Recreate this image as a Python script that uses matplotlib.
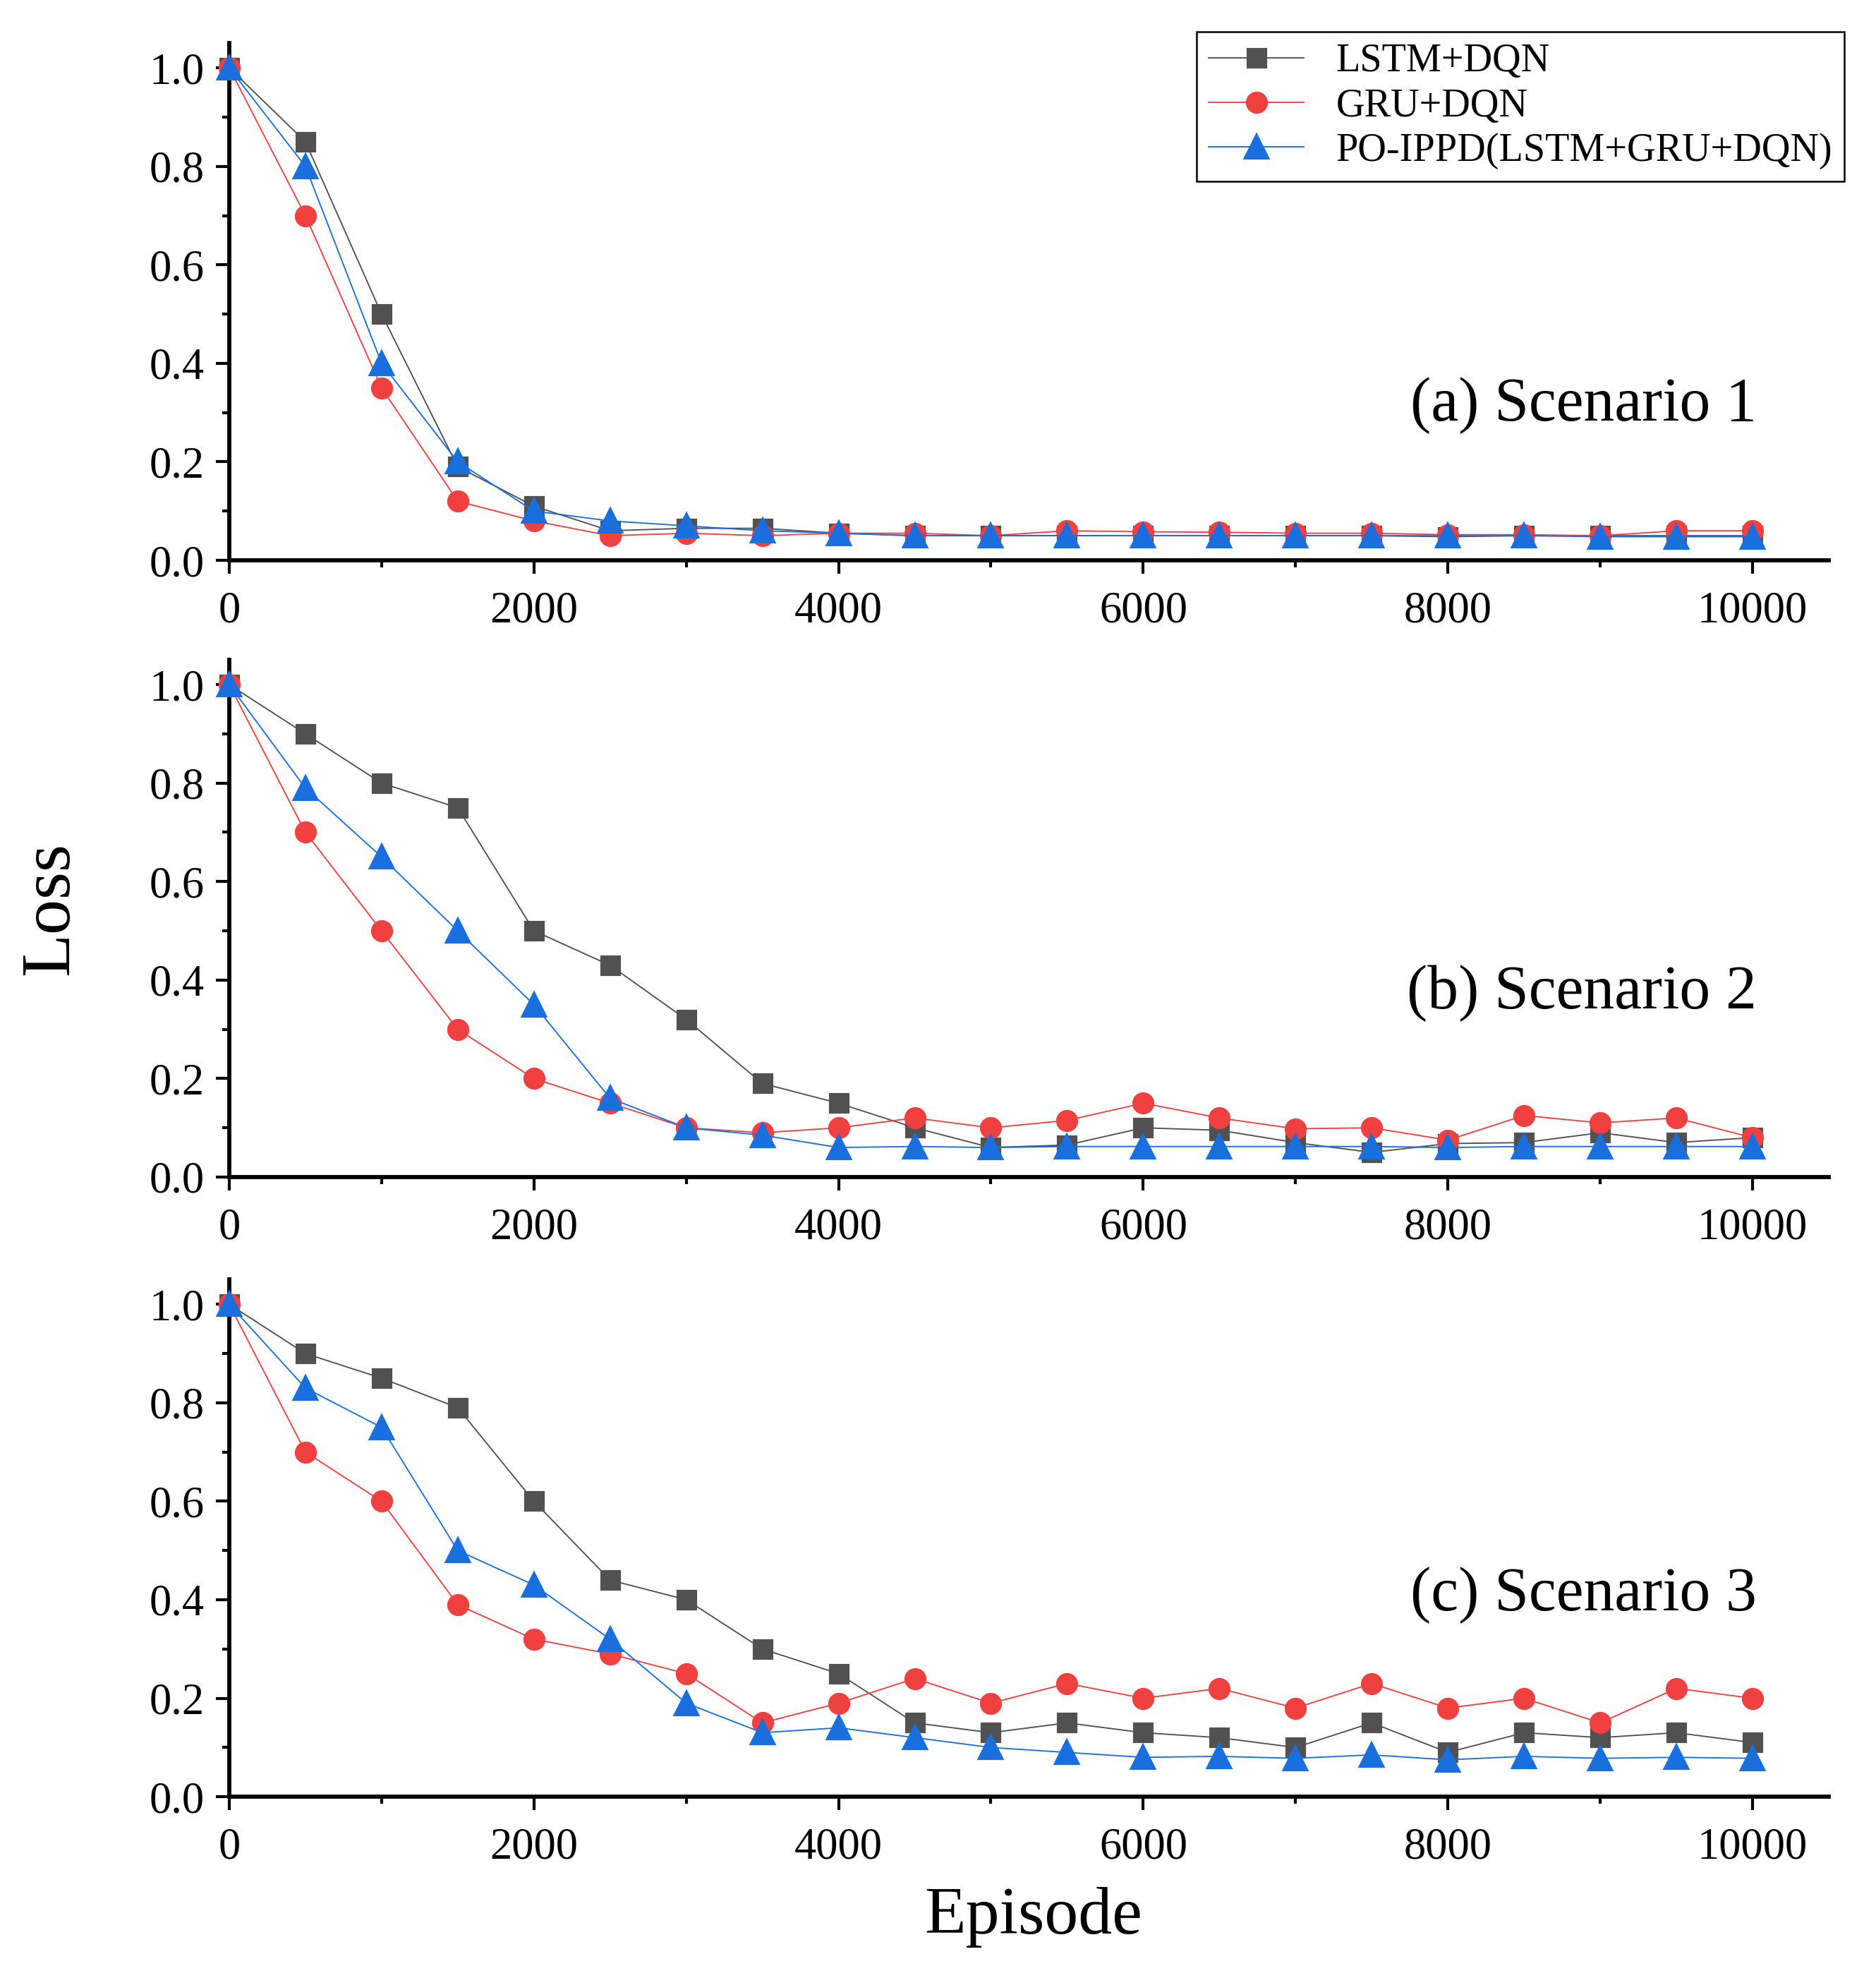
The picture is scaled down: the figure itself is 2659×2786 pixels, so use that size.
import matplotlib
matplotlib.use("Agg")
import matplotlib.pyplot as plt
from matplotlib.ticker import MultipleLocator
import numpy as np

plt.rcParams['font.family'] = ['Liberation Serif', 'DejaVu Serif']

episodes = np.arange(0, 10001, 500)
series_names = ['LSTM+DQN', 'GRU+DQN', 'PO-IPPD(LSTM+GRU+DQN)']
panel_titles = ['(a) Scenario 1', '(b) Scenario 2', '(c) Scenario 3']

# scenario 1
lstm_1 = [1.0, 0.85, 0.5, 0.19, 0.11, 0.06, 0.065, 0.065, 0.055, 0.05, 0.05,
          0.05, 0.05, 0.05, 0.05, 0.05, 0.048, 0.05, 0.05, 0.05, 0.05]
gru_1 = [1.0, 0.7, 0.35, 0.12, 0.08, 0.05, 0.055, 0.05, 0.055, 0.055, 0.05,
         0.06, 0.058, 0.057, 0.055, 0.055, 0.052, 0.052, 0.05, 0.06, 0.06]
po_1 = [1.0, 0.8, 0.4, 0.2, 0.1, 0.08, 0.07, 0.06, 0.055, 0.05, 0.05,
        0.05, 0.05, 0.05, 0.05, 0.05, 0.05, 0.05, 0.048, 0.048, 0.048]

# scenario 2
lstm_2 = [1.0, 0.9, 0.8, 0.75, 0.5, 0.43, 0.32, 0.19, 0.15, 0.10, 0.06,
          0.065, 0.10, 0.095, 0.07, 0.05, 0.068, 0.07, 0.09, 0.07, 0.08]
gru_2 = [1.0, 0.7, 0.5, 0.3, 0.2, 0.15, 0.10, 0.09, 0.10, 0.12, 0.10,
         0.115, 0.15, 0.12, 0.098, 0.10, 0.075, 0.125, 0.11, 0.12, 0.08]
po_2 = [1.0, 0.79, 0.65, 0.5, 0.35, 0.16, 0.10, 0.085, 0.06, 0.062, 0.06,
        0.062, 0.062, 0.062, 0.062, 0.062, 0.06, 0.062, 0.062, 0.062, 0.062]

# scenario 3
lstm_3 = [1.0, 0.9, 0.85, 0.79, 0.6, 0.44, 0.40, 0.30, 0.25, 0.15, 0.13,
          0.15, 0.13, 0.12, 0.10, 0.15, 0.09, 0.13, 0.12, 0.13, 0.11]
gru_3 = [1.0, 0.7, 0.6, 0.39, 0.32, 0.29, 0.25, 0.15, 0.19, 0.24, 0.19,
         0.23, 0.20, 0.22, 0.18, 0.23, 0.18, 0.20, 0.15, 0.22, 0.20]
po_3 = [1.0, 0.83, 0.75, 0.5, 0.43, 0.32, 0.19, 0.13, 0.14, 0.12, 0.10,
        0.09, 0.08, 0.082, 0.078, 0.085, 0.075, 0.082, 0.078, 0.08, 0.078]

data = [(lstm_1, gru_1, po_1), (lstm_2, gru_2, po_2), (lstm_3, gru_3, po_3)]

colors = ['#515151', '#F14040', '#1A6FDF']
markers = ['s', 'o', '^']
msizes = [6, 6.5, 7.5]

fig = plt.figure(figsize=(2659 / 300, 2786 / 300), dpi=300)

bottoms = [0.7150, 0.4013, 0.0861]
text_y = [0.30, 0.355, 0.39]
axes = []
for i in range(3):
    ax = fig.add_axes([0.1222, bottoms[i], 0.8526, 0.263])
    axes.append(ax)
    for j in range(3):
        ax.plot(episodes, data[i][j], color=colors[j], marker=markers[j],
                markersize=msizes[j], linewidth=0.45, label=series_names[j],
                clip_on=False, zorder=3 + j)
    ax.set_xlim(0, 10500)
    ax.set_ylim(0, 1.05)
    ax.xaxis.set_major_locator(MultipleLocator(2000))
    ax.xaxis.set_minor_locator(MultipleLocator(1000))
    ax.yaxis.set_major_locator(MultipleLocator(0.2))
    ax.yaxis.set_minor_locator(MultipleLocator(0.1))
    ax.yaxis.set_major_formatter(plt.FuncFormatter(lambda v, p: f'{v:.1f}'))
    for s in ['top', 'right']:
        ax.spines[s].set_visible(False)
    for s in ['left', 'bottom']:
        ax.spines[s].set_linewidth(1.4)
    ax.tick_params(axis='both', which='major', direction='out', length=4.5,
                   width=1.0, labelsize=15)
    ax.tick_params(axis='both', which='minor', direction='out', length=2.5,
                   width=1.0)
    ax.tick_params(axis='x', which='major', pad=6)
    ax.tick_params(axis='y', which='major', pad=4)
    ax.text(0.955, text_y[i], panel_titles[i], transform=ax.transAxes,
            ha='right', va='center', fontsize=21)

leg = axes[0].legend(loc='upper right', bbox_to_anchor=(0.983, 0.984),
                     bbox_transform=fig.transFigure, borderaxespad=0,
                     fontsize=13.5, handlelength=2.4, fancybox=False,
                     edgecolor='black', framealpha=1, borderpad=0.3,
                     labelspacing=0.2)
leg.get_frame().set_linewidth(0.6)

fig.text(0.027, 0.538, 'Loss', rotation=90, ha='center', va='center', fontsize=24)
fig.text(0.551, 0.025, 'Episode', ha='center', va='center', fontsize=23)

fig.savefig('out.png', dpi=300)
